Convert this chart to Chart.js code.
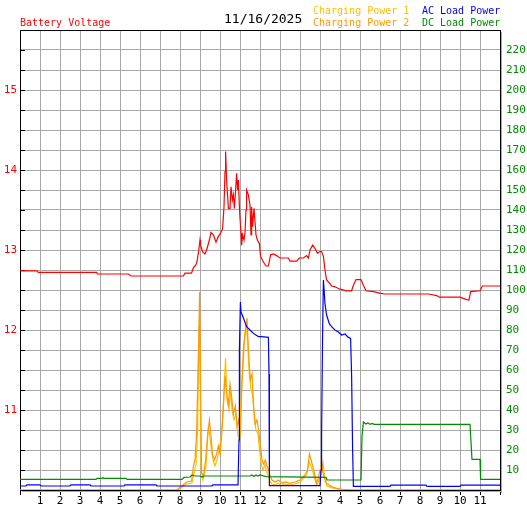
<!DOCTYPE html>
<html>
<head>
<meta charset="utf-8">
<script src="https://cdn.jsdelivr.net/npm/chart.js@4.4.1/dist/chart.umd.min.js"></script>
<style>
  html, body { margin:0; padding:0; background:#fff; }
  canvas { display:block; }
</style>
</head>
<body>
<canvas id="chart" width="527" height="510"></canvas>
<script>
// ── DATA (hours of the day 0..24) ─────────────────────────
const DATE_LABEL = '11/16/2025';

const bvTime = [0,0.83,0.92,3.83,3.88,5.42,5.55,8.17,8.25,8.58,
  8.67,8.75,8.83,8.92,9.0,9.03,9.13,9.25,9.33,9.47,
  9.55,9.67,9.8,9.92,10.03,10.13,10.2,10.25,10.28,10.33,
  10.42,10.5,10.55,10.62,10.67,10.72,10.78,10.83,10.88,10.92,
  10.97,11.0,11.05,11.08,11.13,11.2,11.25,11.3,11.33,11.42,
  11.5,11.55,11.58,11.63,11.7,11.75,11.8,11.87,11.97,12.03,
  12.17,12.3,12.42,12.53,12.67,12.83,13.0,13.42,13.5,13.83,
  13.97,14.17,14.33,14.42,14.5,14.63,14.75,14.87,15.0,15.08,
  15.17,15.25,15.33,15.5,15.58,15.75,16.0,16.33,16.58,16.67,
  16.8,17.05,17.17,17.3,17.67,17.97,18.25,20.42,20.83,20.97,
  22.0,22.33,22.45,22.53,23.0,23.12,24];
const bvVals = [12.74,12.74,12.72,12.72,12.70,12.70,12.675,12.675,12.71,12.71,
  12.78,12.80,12.83,12.96,13.125,13.06,12.98,12.95,13.0,13.125,
  13.22,13.19,13.10,13.17,13.21,13.27,13.54,13.98,14.23,13.875,
  13.52,13.52,13.79,13.625,13.69,13.52,13.75,13.96,13.75,13.875,
  13.54,13.40,13.21,13.06,13.19,13.125,13.21,13.5,13.75,13.69,
  13.56,13.19,13.54,13.29,13.52,13.35,13.19,13.125,13.08,12.92,
  12.85,12.8,12.8,12.94,12.95,12.93,12.90,12.90,12.86,12.86,
  12.90,12.90,12.93,12.90,13.0,13.06,13.02,12.96,12.98,12.98,
  12.92,12.75,12.625,12.58,12.55,12.54,12.51,12.49,12.49,12.56,
  12.63,12.63,12.56,12.49,12.48,12.46,12.45,12.45,12.43,12.41,
  12.41,12.38,12.375,12.48,12.49,12.55,12.55];

const acTime = [0,0.3,0.35,1.0,1.05,2.5,2.55,3.5,3.55,5.2,5.25,6.8,6.85,9.6,9.65,10.9,
  10.95,10.97,11.02,11.05,11.17,11.33,11.5,11.67,11.92,12.08,12.42,12.45,12.47,
  15.0,15.03,15.05,15.08,15.13,15.17,15.2,15.25,15.33,15.47,15.58,15.75,15.92,16.08,16.25,16.42,16.53,16.58,16.63,16.67,
  18.5,18.55,20.3,20.35,22.0,22.05,24];
const acVals = [2.0,2.0,2.6,2.6,2.0,2.0,2.6,2.6,2.0,2.0,2.6,2.6,2.0,2.0,2.6,2.6,
  25,70,94,89,86,81.7,80,78.3,76.7,76.7,76.3,58,2.2,
  2.2,2.2,10,28,79,105,101,93,87.5,83,81.7,80,79,77.5,78,76.3,75.8,57.5,20,1.8,
  1.8,2.4,2.4,1.8,1.8,2.4,2.4];

const dcTime = [0,3.8,3.85,4.1,4.15,4.2,5.3,5.35,
  8.1,8.2,8.5,8.6,8.75,9.0,9.1,9.2,
  11.5,11.6,11.7,11.8,11.9,12.0,12.3,
  15.3,15.35,
  17.05,17.1,17.17,17.3,17.4,17.5,17.6,17.7,
  22.5,22.55,22.6,23.0,23.03,24];
const dcVals = [5.3,5.3,5.8,5.8,6.2,5.8,5.8,5.3,
  5.3,6.3,6.5,7.5,7.0,7.0,6.5,7.0,
  7.0,7.5,6.8,7.5,7.0,7.5,6.7,
  6.3,5.0,
  5.0,26.7,34,33,33.5,32.8,33.3,32.8,
  32.8,24,15.3,15.3,5.3,5.3];

const cp1Time = [0,7.9,8.33,8.6,8.7,8.8,8.88,8.95,9.0,9.05,
  9.15,9.3,9.4,9.48,9.57,9.65,9.75,9.85,9.95,10.05,
  10.15,10.22,10.28,10.35,10.45,10.52,10.6,10.7,10.8,10.88,
  10.97,11.05,11.15,11.23,11.3,11.38,11.45,11.55,11.63,11.72,
  11.8,11.9,12.0,12.08,12.15,12.25,12.33,12.42,12.5,12.6,
  12.75,12.9,13.05,13.2,13.5,13.75,14.0,14.2,14.35,14.45,
  14.55,14.65,14.75,14.85,14.95,15.05,15.15,15.25,15.35,15.6,
  15.9,16.3,24];
const cp1Vals = [0,0,3,3.5,8,13,30,82,60,10,
  5,12,30,28,20,15,12,15,20,25,
  38,55,66,45,40,50,40,35,38,28,
  25,45,62,75,82,75,60,50,48,35,
  30,28,18,12,10,13,9,7,4,3,
  2.5,3.5,2,3,2.5,3,4,6,8,14,
  12,9,5,2.5,5,8,14,5,2,1,
  0.5,0,0];

const cp2Time = [0,7.83,8.33,8.58,8.67,8.75,8.83,8.88,8.95,8.98,
  9.03,9.08,9.17,9.28,9.38,9.47,9.55,9.62,9.72,9.83,
  9.92,10.0,10.08,10.17,10.25,10.33,10.42,10.5,10.58,10.67,
  10.77,10.85,10.93,11.02,11.1,11.18,11.27,11.35,11.43,11.52,
  11.6,11.68,11.77,11.85,11.93,12.02,12.1,12.18,12.27,12.35,
  12.43,12.52,12.6,12.77,12.93,13.1,13.25,13.5,13.75,14.0,
  14.25,14.37,14.47,14.53,14.63,14.75,14.83,14.92,15.0,15.08,
  15.17,15.33,15.58,15.83,16.08,16.75,24];
const cp2Vals = [0,0,4,4.5,12,15,28,50,83,99,
  50,8.5,6.7,15,27,35,27,18,15,18,
  22,18,27,42,57,48,43,53,47,38,
  42,32,35,27,55,72,80,86,68,55,
  58,42,33,35,30,22,15,13,15,12,
  10,6.7,5,4,5,3.3,4,3.3,4,5,
  7.5,10,18,16,12,7.5,3.3,6,10,12.5,
  7.5,3.3,1.7,0.8,0.3,0,0];

// ── COLOURS / FONT ────────────────────────────────────────
const RED = '#ff0000', BLUE = '#0000ff', GREEN = '#008c00';
const GOLD = '#ffc000', ORANGE = '#ff9900', GRID = '#a8a8a8';
const MONO = "'DejaVu Sans Mono', 'Liberation Mono', monospace";

const pts = (t, v) => t.map((x, i) => ({ x, y: v[i] }));

const line = (label, t, v, color, axis) => ({
  label, data: pts(t, v), yAxisID: axis,
  borderColor: color, backgroundColor: color,
  borderWidth: 1.2, pointRadius: 0, tension: 0, fill: false,
});

// frame, inner ticks and header texts
const decor = {
  id: 'decor',
  beforeDatasetsDraw(chart) {
    const { ctx, chartArea: a } = chart;
    ctx.save();
    ctx.fillStyle = GRID;
    ctx.fillRect(a.right + 1, a.top + 2, 1, a.bottom - a.top + 1);
    ctx.fillRect(a.left + 2, a.bottom + 1, a.right - a.left, 1);
    ctx.fillStyle = '#000';
    ctx.fillRect(a.left, a.top, a.right - a.left + 1, 1);
    ctx.fillRect(a.left, a.top, 1, a.bottom - a.top + 1);
    ctx.fillRect(a.right, a.top, 1, a.bottom - a.top + 1);
    ctx.fillRect(a.left, a.bottom, a.right - a.left + 1, 1);
    const ys = chart.scales.y;
    ys.ticks.forEach(t => {
      const p = Math.round(ys.getPixelForValue(t.value));
      ctx.fillRect(a.left, p, 5, 1);
    });
    ctx.restore();
  },
  afterDraw(chart) {
    const { ctx } = chart;
    ctx.save();
    ctx.textBaseline = 'middle';
    ctx.textAlign = 'left';
    ctx.font = `10px ${MONO}`;
    ctx.fillStyle = RED;    ctx.fillText('Battery Voltage', 20, 23);
    ctx.fillStyle = GOLD;   ctx.fillText('Charging Power 1', 313, 11);
    ctx.fillStyle = ORANGE; ctx.fillText('Charging Power 2', 313, 23);
    ctx.fillStyle = BLUE;   ctx.fillText('AC Load Power', 422, 11);
    ctx.fillStyle = GREEN;  ctx.fillText('DC Load Power', 422, 23);
    ctx.font = `13px ${MONO}`;
    ctx.fillStyle = '#000'; ctx.fillText(DATE_LABEL, 224, 20);
    ctx.restore();
  }
};

// dataset 0 is painted last, so the red voltage line sits on top
new Chart(document.getElementById('chart'), {
  type: 'line',
  data: {
    datasets: [
      line('Battery Voltage', bvTime, bvVals, RED, 'y'),
      line('AC Load Power', acTime, acVals, BLUE, 'y2'),
      line('DC Load Power', dcTime, dcVals, GREEN, 'y2'),
      line('Charging Power 2', cp2Time, cp2Vals, ORANGE, 'y2'),
      line('Charging Power 1', cp1Time, cp1Vals, GOLD, 'y2'),
    ]
  },
  options: {
    responsive: false,
    animation: false,
    layout: { padding: { top: 30, left: 0, right: 0, bottom: 0 } },
    plugins: { legend: { display: false }, tooltip: { enabled: false } },
    scales: {
      x: {
        type: 'linear', min: 0, max: 24,
        afterFit: s => { s.height = 20; },
        grid: { color: GRID, tickColor: '#000', tickLength: 5 },
        border: { display: false },
        ticks: {
          stepSize: 1, padding: 0, color: '#000', maxRotation: 0, autoSkip: false,
          font: { family: MONO, size: 11 },
          callback: v => (v === 0 || v === 24) ? '' : String(v % 12 === 0 ? 12 : v % 12),
        },
      },
      y: {
        position: 'left', min: 10, max: 15.75,
        afterFit: s => { s.width = 20; },
        grid: { color: GRID, drawTicks: false },
        border: { display: false },
        ticks: {
          stepSize: 0.25, padding: 3, color: RED, autoSkip: false,
          font: { family: MONO, size: 11 },
          callback: v => (Number.isInteger(v) && v > 10) ? String(v) : '',
        },
      },
      y2: {
        position: 'right', min: 0, max: 230,
        afterFit: s => { s.width = 27; },
        grid: { display: false, drawTicks: false },
        border: { display: false },
        ticks: {
          stepSize: 10, padding: 6, color: GREEN, autoSkip: false,
          font: { family: MONO, size: 11 },
          callback: v => (v > 0 && v < 230) ? String(v) : '',
        },
      },
    },
  },
  plugins: [decor],
});
</script>
</body>
</html>
